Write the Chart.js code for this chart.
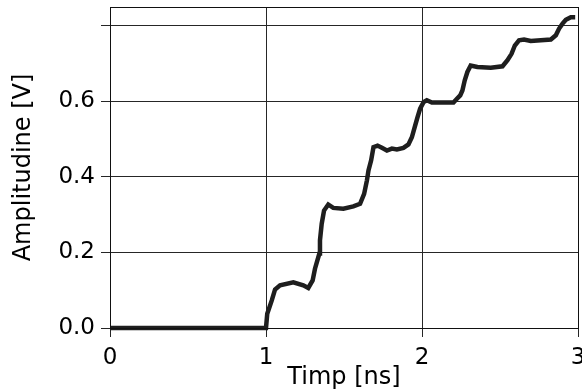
<!DOCTYPE html>
<html>
<head>
<meta charset="utf-8">
<script src="https://cdn.jsdelivr.net/npm/chart.js@4"></script>
<style>
  html, body { margin: 0; padding: 0; background: #fff; overflow: hidden; }
  #wrap { width: 582px; height: 392px; position: relative; }
</style>
</head>
<body>
<div id="wrap"><canvas id="c" width="582" height="392"></canvas></div>
<script>
const timeNs = [0, 0.5, 1.0, 1.008, 1.037, 1.058, 1.09, 1.175, 1.239, 1.271, 1.299, 1.314, 1.342, 1.346, 1.357, 1.372, 1.399, 1.431, 1.496, 1.56, 1.603, 1.629, 1.647, 1.657, 1.674, 1.689, 1.715, 1.743, 1.775, 1.807, 1.839, 1.881, 1.913, 1.935, 1.956, 1.971, 1.988, 2.01, 2.031, 2.063, 2.117, 2.202, 2.224, 2.245, 2.259, 2.274, 2.291, 2.312, 2.355, 2.441, 2.516, 2.548, 2.574, 2.595, 2.622, 2.654, 2.697, 2.762, 2.826, 2.858, 2.879, 2.901, 2.922, 2.954, 2.982];
const amplitudeV = [0, 0, 0, 0.038, 0.073, 0.102, 0.113, 0.121, 0.113, 0.106, 0.126, 0.157, 0.197, 0.232, 0.276, 0.311, 0.327, 0.318, 0.316, 0.322, 0.329, 0.355, 0.391, 0.417, 0.444, 0.479, 0.483, 0.477, 0.470, 0.475, 0.473, 0.477, 0.486, 0.505, 0.536, 0.558, 0.581, 0.598, 0.603, 0.597, 0.597, 0.597, 0.607, 0.616, 0.629, 0.656, 0.678, 0.695, 0.691, 0.689, 0.693, 0.709, 0.726, 0.748, 0.762, 0.764, 0.760, 0.762, 0.764, 0.775, 0.793, 0.806, 0.816, 0.823, 0.823];
const xTickValues = [0, 1, 2, 3];
const xTickLabels = ['0', '1', '2', '3'];
const yTickValues = [0, 0.2, 0.4, 0.6, 0.8];
const yTickLabels = ['0.0', '0.2', '0.4', '0.6', ''];
const xTitle = 'Timp [ns]';
const yTitle = 'Amplitudine [V]';

const FONT = { family: 'DejaVu Sans', size: 23 };
const TFONT = { family: 'DejaVu Sans', size: 24 };
const GRID = '#262626';

const frame = {
  id: 'frame',
  afterDatasetsDraw(chart) {
    const a = chart.chartArea, ctx = chart.ctx;
    ctx.save();
    ctx.strokeStyle = '#111';
    ctx.lineWidth = 1;
    ctx.strokeRect(Math.round(a.left) + 0.5, Math.round(a.top) + 0.5, Math.round(a.right - a.left), Math.round(a.bottom - a.top));
    ctx.restore();
  }
};

new Chart(document.getElementById('c'), {
  type: 'scatter',
  data: {
    datasets: [{
      data: timeNs.map((t, i) => ({ x: t, y: amplitudeV[i] })),
      showLine: true,
      borderColor: '#1e1e1e',
      borderWidth: 4.5,
      pointRadius: 0,
      tension: 0,
      clip: 4
    }]
  },
  options: {
    responsive: false,
    animation: false,
    layout: { padding: { left: 0, top: 7, right: 4, bottom: 0 } },
    plugins: { legend: { display: false }, tooltip: { enabled: false } },
    scales: {
      x: {
        type: 'linear', min: 0, max: 3,
        afterBuildTicks(s) { s.ticks = xTickValues.map(v => ({ value: v })); },
        afterFit(s) { s.height = 64; s.paddingRight = 0; s.paddingLeft = 0; },
        ticks: {
          color: '#000', font: FONT, padding: 7, maxRotation: 0,
          callback: (v) => { const i = xTickValues.indexOf(v); return i >= 0 ? xTickLabels[i] : ''; }
        },
        grid: { color: GRID, lineWidth: 1, tickLength: 9, drawTicks: true },
        border: { color: '#111', width: 1 },
        title: { display: true, text: xTitle, color: '#000', font: TFONT, padding: { top: 0, bottom: 0 } }
      },
      y: {
        type: 'linear', min: 0, max: 0.85,
        afterBuildTicks(s) { s.ticks = yTickValues.map(v => ({ value: v })); },
        afterFit(s) { s.width = 110; s.paddingTop = 0; s.paddingBottom = 0; },
        ticks: {
          color: '#000', font: FONT, padding: 6,
          callback: (v) => { const i = yTickValues.findIndex(t => Math.abs(t - v) < 1e-9); return i >= 0 ? yTickLabels[i] : ''; }
        },
        grid: { color: GRID, lineWidth: 1, tickLength: 9, drawTicks: true },
        border: { color: '#111', width: 1 },
        title: { display: true, text: yTitle, color: '#000', font: TFONT, padding: { top: 9, bottom: 0 } }
      }
    }
  },
  plugins: [frame]
});
</script>
</body>
</html>
